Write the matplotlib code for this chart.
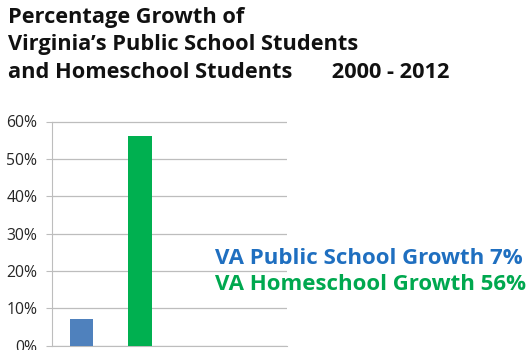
import matplotlib
matplotlib.use("Agg")
import matplotlib.pyplot as plt
from matplotlib.ticker import PercentFormatter

plt.rcParams['font.family'] = ['Open Sans', 'DejaVu Sans']

categories = ["VA Public School", "VA Homeschool"]
growth = [7, 56]
bar_colors = ["#4F81BD", "#00B050"]
text_colors = ["#1F6FC0", "#00A84F"]
y_ticks = [0, 10, 20, 30, 40, 50, 60]

W, H = 530, 350
fig = plt.figure(figsize=(W / 100, H / 100), dpi=100)

# axes box in pixel coordinates
left, right, top, bottom = 52, 287, 121.5, 345.5
ax = fig.add_axes([left / W, 1 - bottom / H, (right - left) / W, (bottom - top) / H])

x = list(range(len(categories)))
ax.bar(x, growth, width=0.4, color=bar_colors, zorder=3)
ax.set_xlim(-0.5, 3.5)
ax.set_ylim(0, 60)
ax.set_yticks(y_ticks)
ax.yaxis.set_major_formatter(PercentFormatter(decimals=0))
ax.set_xticks([])
ax.grid(axis='y', color='#BDBDBD', linewidth=0.9, zorder=0)
for s in ['top', 'right']:
    ax.spines[s].set_visible(False)
ax.spines['left'].set_color('#BDBDBD')
ax.spines['bottom'].set_color('#BDBDBD')
ax.tick_params(axis='y', length=4.5, color='#BDBDBD', labelsize=11.3,
               labelcolor='#262626', pad=6)

# title block
title_lines = ["Percentage Growth of",
               "Virginia\u2019s Public School Students",
               "and Homeschool Students       2000 - 2012"]
for i, line in enumerate(title_lines):
    fig.text(8 / W, 1 - (17 + i * 27.5) / H, line, fontsize=15.7, fontweight='bold',
             color='#111111', ha='left', va='center')

# growth annotations
for i, (cat, val) in enumerate(zip(categories, growth)):
    fig.text(215 / W, 1 - (258 + i * 27) / H, f"{cat} Growth {val}%",
             fontsize=16, fontweight='bold', color=text_colors[i],
             ha='left', va='center')

fig.savefig("out.png", dpi=100)
